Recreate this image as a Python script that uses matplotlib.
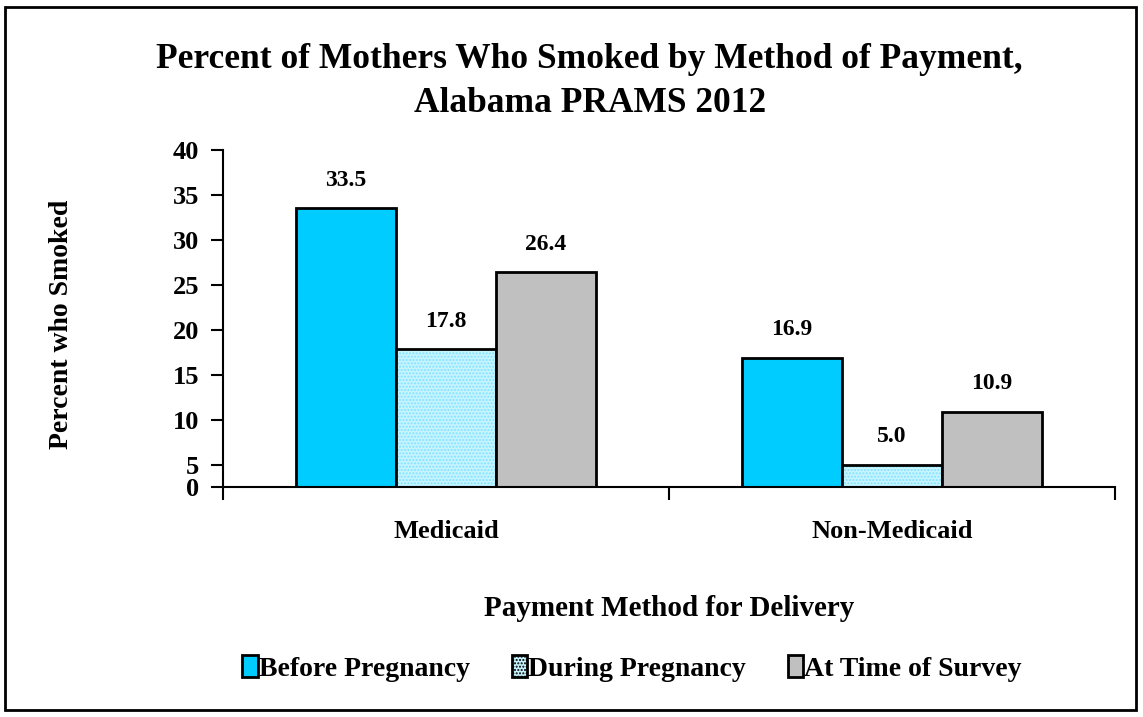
import numpy as np
import matplotlib
matplotlib.use('Agg')
import matplotlib.pyplot as plt
from matplotlib.patches import Rectangle, Patch

categories = ['Medicaid', 'Non-Medicaid']
series = ['Before Pregnancy', 'During Pregnancy', 'At Time of Survey']
before = [33.5, 16.9]
during = [17.8, 5.0]
survey = [26.4, 10.9]
# the bottom tick labelled "0" sits half a step below "5" in the original chart
ytick_pos = [2.5, 5, 10, 15, 20, 25, 30, 35, 40]
ytick_lab = ['0', '5', '10', '15', '20', '25', '30', '35', '40']

plt.rcParams['font.family'] = ['Liberation Serif', 'DejaVu Serif']
plt.rcParams['font.weight'] = 'bold'
plt.rcParams['hatch.linewidth'] = 1.0
plt.rcParams['hatch.color'] = '#7FE3FF'

fig = plt.figure(figsize=(11.43, 7.17), dpi=100)
ax = fig.add_axes([0.195, 0.3208, 0.7804, 0.470])

x = np.arange(len(categories))
w = 0.224
colors = ['#00CCFF', '#C8F4FF', '#C0C0C0']
vals = [before, during, survey]
for i, v in enumerate(vals):
    pos = x + (i - 1) * w
    if i == 1:
        ax.bar(pos, v, w, color=colors[i], hatch='.....', edgecolor='#7FE3FF', linewidth=0)
        ax.bar(pos, v, w, fill=False, edgecolor='black', linewidth=2)
    else:
        ax.bar(pos, v, w, color=colors[i], edgecolor='black', linewidth=2)
    for p, val in zip(pos, v):
        ax.text(p, val + 3.1, f'{val:.1f}', ha='center', va='center', fontsize=17, fontweight='bold')

ax.set_xlim(-0.5, 1.5)
ax.set_ylim(2.5, 40)
ax.set_yticks(ytick_pos)
ax.set_yticklabels(ytick_lab, fontsize=19, fontweight='bold')
ax.set_xticks([-0.5, 0.5, 1.5])
ax.set_xticklabels([])
ax.tick_params(axis='x', direction='out', length=9, width=1.5)
ax.tick_params(axis='y', direction='out', length=9, width=1.5, pad=8)
for i, c in enumerate(categories):
    ax.text(x[i], -0.1335, c, ha='center', va='center', fontsize=19, fontweight='bold',
            transform=ax.get_xaxis_transform())
ax.spines['top'].set_visible(False)
ax.spines['right'].set_visible(False)
ax.spines['left'].set_linewidth(1.5)
ax.spines['bottom'].set_linewidth(1.5)

fig.text(0.054, 0.547, 'Percent who Smoked', rotation=90, ha='center', va='center',
         fontsize=20, fontweight='bold')
fig.text(0.585, 0.151, 'Payment Method for Delivery', ha='center', va='center',
         fontsize=21, fontweight='bold')
fig.text(0.516, 0.886, 'Percent of Mothers Who Smoked by Method of Payment,\nAlabama PRAMS 2012',
         ha='center', va='center', fontsize=25.5, fontweight='bold', linespacing=1.45)

handles = [
    Patch(facecolor=colors[0], edgecolor='black', linewidth=2),
    Patch(facecolor=colors[1], edgecolor='black', linewidth=2, hatch='.....'),
    Patch(facecolor=colors[2], edgecolor='black', linewidth=2),
]
fig.legend(handles, series, loc='center', bbox_to_anchor=(0.553, 0.068), ncol=3,
           frameon=False, prop={'size': 20, 'weight': 'bold'},
           handlelength=0.55, handleheight=0.85, handletextpad=0.05, columnspacing=1.5)

fig.patches.append(Rectangle((5 / 1143, 7 / 717), 1131 / 1143, 703 / 717, transform=fig.transFigure,
                             fill=False, edgecolor='black', linewidth=2))

fig.savefig('out.png', dpi=100)
